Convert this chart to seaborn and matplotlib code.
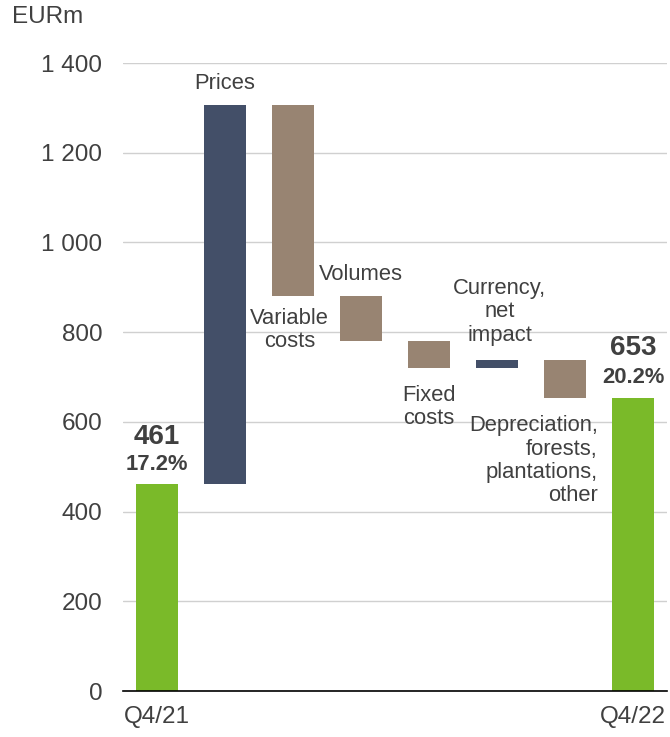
import matplotlib
matplotlib.use("Agg")
import matplotlib.pyplot as plt
import seaborn as sns
import pandas as pd
import numpy as np

categories = ["Q4/21", "Prices", "Variable costs", "Volumes", "Fixed costs",
              "Currency, net impact", "Depreciation, forests, plantations, other", "Q4/22"]
values = [461, 845, -425, -100, -60, 17, -85, 653]
kinds = ["total", "delta", "delta", "delta", "delta", "delta", "delta", "total"]
margins = ["17.2%", "", "", "", "", "", "", "20.2%"]
xtick_labels = ["Q4/21", "", "", "", "", "", "", "Q4/22"]
yticks = [0, 200, 400, 600, 800, 1000, 1200, 1400]

GREEN = "#7ABA29"
NAVY = "#434F68"
BROWN = "#988472"
TXT = "#404040"

# compute waterfall bottoms / heights
bottoms, heights, colors = [], [], []
running = 0
for v, k in zip(values, kinds):
    if k == "total":
        bottoms.append(0); heights.append(v); colors.append(GREEN); running = v
    else:
        lo = running if v >= 0 else running + v
        bottoms.append(lo); heights.append(abs(v))
        colors.append(NAVY if v >= 0 else BROWN)
        running += v

df = pd.DataFrame({"cat": categories, "h": heights})

sns.set_theme(style="white")
plt.rcParams["font.family"] = ["Liberation Sans", "DejaVu Sans"]

fig = plt.figure(figsize=(6.70, 7.37), dpi=100)
ax = fig.add_axes([0.1836, 0.0624, 0.8119, 0.8521])

sns.barplot(data=df, x="cat", y="h", hue="cat", palette=colors, legend=False,
            width=0.63, ax=ax, saturation=1, edgecolor="none", linewidth=0)
for p, b in zip(ax.patches, bottoms):
    p.set_y(b)

ax.set_xlim(-0.5, 7.5)
ax.set_ylim(0, 1400)
ax.set_yticks(yticks)
ax.set_yticklabels([f"{t:,}".replace(",", " ") for t in yticks], fontsize=17.5, color=TXT)
ax.set_xticks(range(len(categories)))
ax.set_xticklabels(xtick_labels, fontsize=17.5, color=TXT)
ax.tick_params(axis="y", length=0, pad=15)
ax.tick_params(axis="x", length=0, pad=11)
ax.set_xlabel(""); ax.set_ylabel("")
ax.grid(axis="y", color="#D0D0D0", linewidth=1)
ax.set_axisbelow(True)
for s in ["top", "right", "left"]:
    ax.spines[s].set_visible(False)
ax.spines["bottom"].set_color("black")
ax.spines["bottom"].set_linewidth(1.2)

fs = 15.8
ls = 1.15
ax.text(1, 1355, "Prices", ha="center", va="center", fontsize=fs, color=TXT)
ax.text(1.95, 805, "Variable\ncosts", ha="center", va="center", fontsize=fs, color=TXT, linespacing=ls)
ax.text(3, 929, "Volumes", ha="center", va="center", fontsize=fs, color=TXT)
ax.text(4, 633, "Fixed\ncosts", ha="center", va="center", fontsize=fs, color=TXT, linespacing=ls)
ax.text(5.04, 845, "Currency,\nnet\nimpact", ha="center", va="center", fontsize=fs, color=TXT, linespacing=ls)
ax.text(6.48, 513, "Depreciation,\nforests,\nplantations,\nother", ha="right", va="center",
        fontsize=fs, color=TXT, linespacing=ls)

ax.text(0, 566, f"{values[0]}", ha="center", va="center", fontsize=20, fontweight="bold", color=TXT)
ax.text(0, 506, margins[0], ha="center", va="center", fontsize=15.8, fontweight="bold", color=TXT)
ax.text(7, 765, f"{values[7]}", ha="center", va="center", fontsize=20, fontweight="bold", color=TXT)
ax.text(7, 698, margins[7], ha="center", va="center", fontsize=15.8, fontweight="bold", color=TXT)

fig.text(12 / 670, 1 - 17 / 737, "EURm", ha="left", va="center", fontsize=17.5, color=TXT)

fig.savefig("out.png", dpi=100)
